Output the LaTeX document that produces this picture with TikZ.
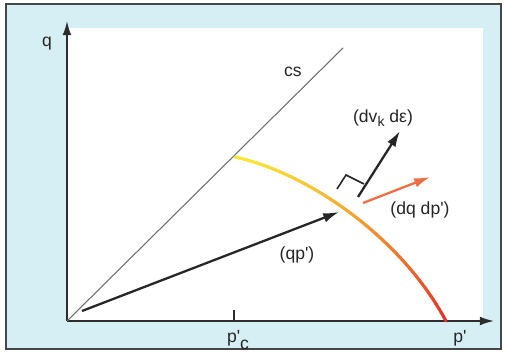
\documentclass[tikz,border=0pt]{standalone}
\usepackage{fontspec}
\setmainfont{Liberation Sans}
\usetikzlibrary{arrows.meta,positioning}
\definecolor{panelcyan}{RGB}{214,239,245}
\definecolor{framegray}{RGB}{70,70,70}
\definecolor{axisgray}{RGB}{45,45,45}
\definecolor{csgray}{RGB}{110,110,110}
\definecolor{locusyellow}{RGB}{250,230,55}
\definecolor{locusred}{RGB}{228,50,40}
\definecolor{incorange}{RGB}{240,110,65}
\newcommand{\pr}{\textquotesingle}

\begin{document}
\begin{tikzpicture}[x=0.02cm, y=-0.02cm,
    axis/.style={-{Latex[length=8pt,width=5pt]}, line width=1pt, axisgray},
    vec/.style={-{Latex[length=9pt,width=5.5pt]}, line width=1.3pt, black!85},
    lbl/.style={font=\fontsize{10}{12}\selectfont, inner sep=1pt, text=black!85},
    locus/.style={line width=1.8pt, line cap=round}
  ]
  \useasboundingbox (0,0) rectangle (505,361);
  \draw[framegray, line width=1.2pt, fill=panelcyan] (6,4) rectangle (501,349);
  \fill[white] (67,28) rectangle (483,321);
  % axes
  \coordinate (O) at (67,321);
  \coordinate (qtop) at (67,21);
  \coordinate (pend) at (494,321);
  \draw[axis] (O) -- (qtop);
  \draw[axis] (O) -- (pend);
  \node[lbl] (q) at (47,44) {q};
  \node[lbl] (p) at (460,338) {p\pr};
  % tick at p'c
  \coordinate (pc) at (234,321);
  \coordinate (pctop) at (234,310);
  \draw[axisgray, line width=0.9pt] (pc) -- (pctop);
  \node[lbl] (pclbl) at (238,340) {p\pr\raisebox{-0.7ex}{c}};
  % critical state line
  \coordinate (cstop) at (343,48);
  \draw[csgray, line width=0.6pt] (O) -- (cstop);
  \node[lbl] (cs) at (293,72) {cs};
  % yield locus, yellow into red
  \foreach \i [evaluate=\i as \ta using \i/60,
               evaluate=\i as \tb using (\i+1)/60,
               evaluate=\i as \mix using int(100*(\i/59)^1.5)] in {0,...,59}
    \draw[locus, locusred!\mix!locusyellow]
      ({(1-\ta)^3*235+3*(1-\ta)^2*\ta*305+3*(1-\ta)*\ta^2*400+\ta^3*446},
       {(1-\ta)^3*157+3*(1-\ta)^2*\ta*172+3*(1-\ta)*\ta^2*235+\ta^3*321})
      -- ({(1-\tb)^3*235+3*(1-\tb)^2*\tb*305+3*(1-\tb)*\tb^2*400+\tb^3*446},
       {(1-\tb)^3*157+3*(1-\tb)^2*\tb*172+3*(1-\tb)*\tb^2*235+\tb^3*321});
  % stress vector
  \coordinate (qp0) at (82,311);
  \coordinate (qp1) at (339,212);
  \draw[vec] (qp0) -- (qp1);
  \node[lbl] (qplbl) at (297,255) {(qp\pr)};
  % plastic strain increment, normal to locus
  \coordinate (n0) at (358,197);
  \coordinate (n1) at (400,131);
  \draw[vec] (n0) -- (n1);
  \draw[black!85, line width=0.9pt] (337,189) -- (346,175) -- (364,184);
  \node[lbl] (nlbl) at (383,118) {(dv\raisebox{-0.5ex}{\footnotesize k} dε)};
  % stress increment
  \coordinate (d0) at (363,203);
  \coordinate (d1) at (430,177);
  \draw[vec, incorange] (d0) -- (d1);
  \node[lbl] (dlbl) at (420,210) {(dq dp\pr)};
\end{tikzpicture}
\end{document}
